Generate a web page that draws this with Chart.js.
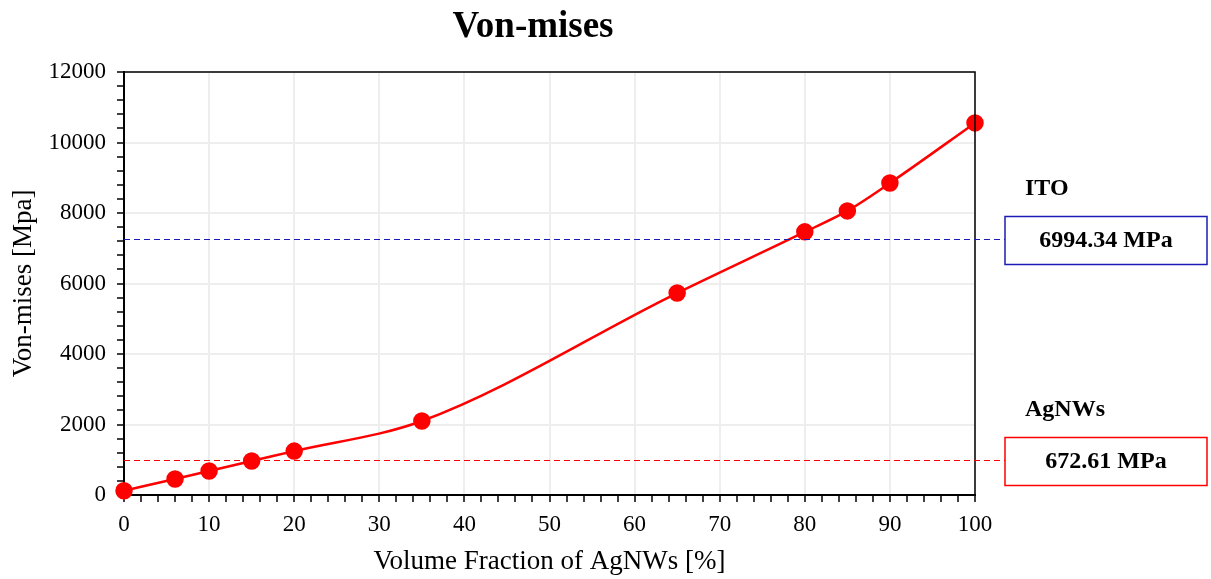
<!DOCTYPE html>
<html>
<head>
    <title>Von-mises</title>
    <script src="https://cdn.jsdelivr.net/npm/chart.js"></script>
    <style>
body{
    margin: 0;
    background-color: #ffffff;
}
#wrap{
    width: 1211px;
    height: 579px;
}
    </style>
</head>
<body>
    <div id="wrap">
        <canvas id="vonMisesChart"></canvas>
    </div>

    <script>
        // data
        const fractions = [0, 6, 10, 15, 20, 35, 65, 80, 85, 90, 100];
        const stresses = [120, 455, 680, 965, 1245, 2100, 5730, 7465, 8060, 8850, 10555];

        // reference levels (dashed lines) and their boxes
        const refNames = ['ITO', 'AgNWs'];
        const refLabels = ['6994.34 MPa', '672.61 MPa'];
        const refLevels = [7260, 990];
        const refColors = ['#1c1cb4', '#ff0000'];

        const serif = '"Liberation Serif", "Times New Roman", serif';

        // title, frame, dashed reference lines and the boxes on the right
        const extras = {
            id: 'extras',
            afterDatasetsDraw(chart) {
                const ctx = chart.ctx;
                const a = chart.chartArea;
                const y = chart.scales.y;
                ctx.save();
                ctx.fillStyle = '#000';
                ctx.font = 'bold 37px ' + serif;
                ctx.textAlign = 'center';
                ctx.textBaseline = 'middle';
                ctx.fillText('Von-mises', 533, 27);

                ctx.strokeStyle = '#000';
                ctx.lineWidth = 1.5;
                ctx.beginPath();
                ctx.moveTo(a.left, a.top);
                ctx.lineTo(a.right, a.top);
                ctx.lineTo(a.right, a.bottom);
                ctx.stroke();

                const boxLeft = a.right + 30;
                const boxW = 202, boxH = 48;
                refLevels.forEach((lvl, i) => {
                    const py = Math.round(y.getPixelForValue(lvl)) + 0.5;
                    ctx.setLineDash([6, 4]);
                    ctx.lineWidth = 1;
                    ctx.strokeStyle = refColors[i];
                    ctx.beginPath();
                    ctx.moveTo(a.left, py);
                    ctx.lineTo(boxLeft, py);
                    ctx.stroke();
                    ctx.setLineDash([]);
                    ctx.lineWidth = 1.5;
                    ctx.strokeRect(boxLeft, py - 23, boxW, boxH);

                    ctx.fillStyle = '#000';
                    ctx.font = 'bold 24px ' + serif;
                    ctx.textBaseline = 'middle';
                    ctx.textAlign = 'center';
                    ctx.fillText(refLabels[i], boxLeft + boxW / 2, py + 1);
                    ctx.textAlign = 'left';
                    ctx.fillText(refNames[i], boxLeft + 20, py - 51);
                });
                ctx.restore();
            }
        };

        new Chart(document.getElementById('vonMisesChart'), {
            type: 'line',
            data: {
                datasets: [{
                    label: 'Von-mises',
                    data: fractions.map((f, i) => ({x: f, y: stresses[i]})),
                    borderColor: '#ff0000',
                    backgroundColor: '#ff0000',
                    borderWidth: 2.5,
                    pointRadius: 7.5,
                    pointHoverRadius: 7.5,
                    cubicInterpolationMode: 'monotone',
                    clip: false,
                    fill: false
                }]
            },
            options: {
                responsive: true,
                maintainAspectRatio: false,
                animation: false,
                layout: {
                    padding: {left: 0, right: 236, top: 72, bottom: 0}
                },
                plugins: {
                    legend: {display: false},
                    tooltip: {enabled: false},
                    title: {display: false}
                },
                scales: {
                    x: {
                        type: 'linear',
                        min: 0,
                        max: 100,
                        afterFit: s => { s.height = 84; },
                        ticks: {
                            stepSize: 2,
                            autoSkip: false,
                            maxRotation: 0,
                            color: '#000',
                            font: {family: serif, size: 23},
                            padding: 9,
                            callback: v => (v % 10 === 0 ? v : '')
                        },
                        grid: {
                            color: c => (c.tick && c.tick.value % 10 === 0 && c.tick.value !== 0 ? '#eeeeee' : 'rgba(0,0,0,0)'),
                            lineWidth: 2,
                            tickColor: '#000',
                            tickLength: 7,
                            tickWidth: 1.5
                        },
                        border: {color: '#000', width: 2},
                        title: {
                            display: true,
                            text: 'Volume Fraction of AgNWs [%]',
                            color: '#000',
                            font: {family: serif, size: 27},
                            padding: {top: 0, bottom: 1}
                        }
                    },
                    y: {
                        min: 0,
                        max: 12000,
                        afterFit: s => { s.width = 124; },
                        ticks: {
                            stepSize: 400,
                            autoSkip: false,
                            color: '#000',
                            font: {family: serif, size: 23},
                            padding: 11,
                            callback: v => (v % 2000 === 0 ? v : '')
                        },
                        grid: {
                            color: c => (c.tick && c.tick.value % 2000 === 0 && c.tick.value !== 0 ? '#eeeeee' : 'rgba(0,0,0,0)'),
                            lineWidth: 2,
                            tickColor: '#000',
                            tickLength: 7,
                            tickWidth: 1.5
                        },
                        border: {color: '#000', width: 2},
                        title: {
                            display: true,
                            text: 'Von-mises [Mpa]',
                            color: '#000',
                            font: {family: serif, size: 27},
                            padding: {top: 8, bottom: 0}
                        }
                    }
                }
            },
            plugins: [extras]
        });
    </script>
</body>
</html>
